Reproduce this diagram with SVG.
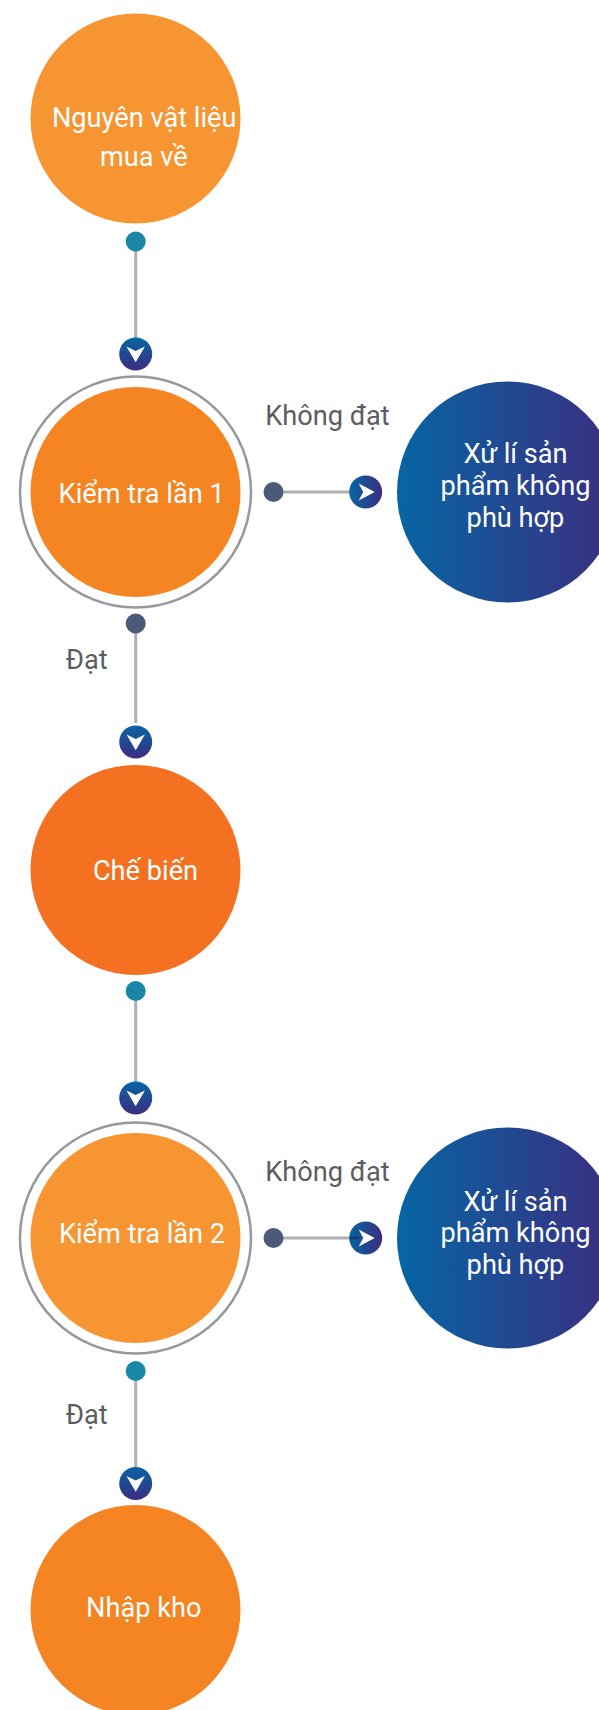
<svg xmlns="http://www.w3.org/2000/svg" width="599" height="1710" viewBox="0 0 599 1710">
<style>
text{font-family:Roboto,"Liberation Sans",sans-serif;font-size:27.2px;text-anchor:middle}
.w{fill:#fff}.l{fill:#5c5d60}
.ring{fill:#fff;stroke:#97989c;stroke-width:2.5}
.c{stroke:#adafb2;stroke-width:3;fill:none}
.teal{fill:#1a87a6}.slate{fill:#4b5a78}
.ah{fill:#fff}
</style>
<defs>
<linearGradient id="gh" x1="0" y1="0" x2="1" y2="0"><stop offset="0" stop-color="#0665a3"/><stop offset="1" stop-color="#3c2d80"/></linearGradient>
<linearGradient id="gv" x1="0" y1="0" x2="0" y2="1"><stop offset="0" stop-color="#0665a3"/><stop offset="1" stop-color="#3c2d80"/></linearGradient>
<g id="ad"><circle r="16.5" fill="url(#gv)"/><path class="ah" d="M-9.200-7.500L0-3L9.200-7.500L0 8.300Z"/></g>
<g id="ar"><circle r="16.500" fill="url(#gh)"/><path class="ah" d="M-7-8.500L-2.500 0L-7 8.500L9 0Z"/></g>
</defs>
<g id="connectors">
<line class="c" x1="135.700" y1="241" x2="135.700" y2="340"/>
<line class="c" x1="135.700" y1="623" x2="135.700" y2="723"/>
<line class="c" x1="135.700" y1="991" x2="135.700" y2="1085"/>
<line class="c" x1="135.700" y1="1371" x2="135.700" y2="1470"/>
<line class="c" x1="273.500" y1="492" x2="352" y2="492"/>
<line class="c" x1="273.500" y1="1238" x2="352" y2="1238"/>
<circle class="teal" cx="135.700" cy="241.500" r="10"/>
<use href="#ad" x="135.700" y="354"/>
<circle class="slate" cx="135.700" cy="623.500" r="10"/>
<use href="#ad" x="135.700" y="742"/>
<circle class="teal" cx="135.700" cy="991" r="10"/>
<use href="#ad" x="135.700" y="1098"/>
<circle class="teal" cx="135.700" cy="1371" r="10"/>
<use href="#ad" x="135.700" y="1483.500"/>
<circle class="slate" cx="273.500" cy="492" r="10"/>
<use href="#ar" x="365.700" y="492"/>
<circle class="slate" cx="273.500" cy="1238" r="10"/>
<use href="#ar" x="365.700" y="1238"/>
<line x1="350" y1="1238" x2="359" y2="1238" stroke="#123f6e" stroke-width="3"/>
<text class="l" x="327.500" y="425">Không đạt</text>
<text class="l" x="86.700" y="669">Đạt</text>
<text class="l" x="327.500" y="1181">Không đạt</text>
<text class="l" x="86.700" y="1424">Đạt</text>
</g>
<g id="n1"><circle cx="135.500" cy="118.500" r="105" fill="#f79533"/><text class="w" x="144.200" y="127">Nguyên vật liệu</text><text class="w" x="143.800" y="165.500">mua về</text></g>
<g id="n2"><circle class="ring" cx="135.500" cy="492" r="115.500"/><circle cx="135.500" cy="492" r="105" fill="#f58423"/><text class="w" x="141.700" y="503">Kiểm tra lần 1</text></g>
<g id="n3"><circle cx="135.500" cy="870" r="105" fill="#f47121"/><text class="w" x="145.500" y="880">Chế biến</text></g>
<g id="n4"><circle class="ring" cx="135.500" cy="1238" r="115.500"/><circle cx="135.500" cy="1238" r="105" fill="#f79533"/><text class="w" x="142" y="1243">Kiểm tra lần 2</text></g>
<g id="n5"><circle cx="135.500" cy="1610" r="105" fill="#f58423"/><text class="w" x="143.800" y="1617">Nhập kho</text></g>
<g id="n6"><circle cx="507.500" cy="492" r="110.500" fill="url(#gh)"/><text class="w" x="515.500" y="463">Xử lí sản</text><text class="w" x="515.500" y="495">phẩm không</text><text class="w" x="515.500" y="527">phù hợp</text></g>
<g id="n7"><circle cx="507.500" cy="1238" r="110.500" fill="url(#gh)"/><text class="w" x="515.500" y="1211">Xử lí sản</text><text class="w" x="515.500" y="1242">phẩm không</text><text class="w" x="515.500" y="1274">phù hợp</text></g>
</svg>
